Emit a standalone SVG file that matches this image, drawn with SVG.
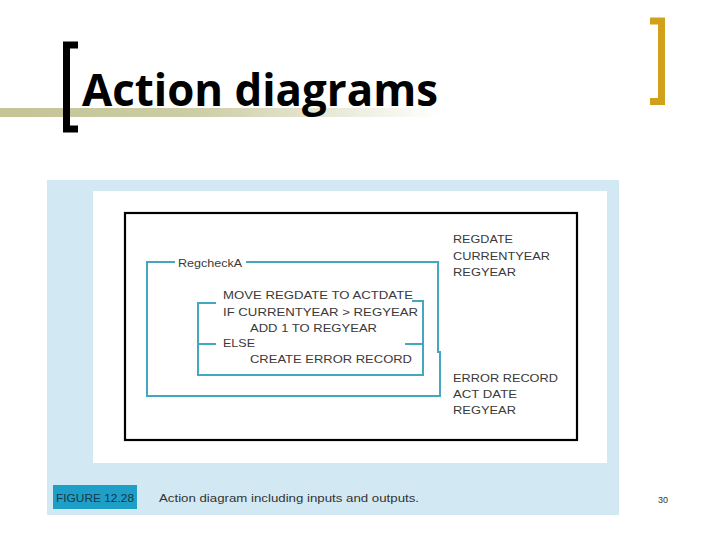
<svg xmlns="http://www.w3.org/2000/svg" width="720" height="540" viewBox="0 0 720 540">
  <defs>
    <linearGradient id="bar" x1="0" y1="0" x2="1" y2="0">
      <stop offset="0" stop-color="#c4c496"/>
      <stop offset="0.45" stop-color="#cdcda6"/>
      <stop offset="1" stop-color="#ffffff"/>
    </linearGradient>
    <style>
      .teal { fill: none; stroke: #45a6bf; stroke-width: 2; }
      .code { font-family: "Liberation Sans", Arial, sans-serif; font-size: 11.5px; fill: #3a3a3a; }
      .title { font-family: "Open Sans", "Liberation Sans", sans-serif; font-weight: bold; font-size: 45px; fill: #000; }
      .cap { font-family: "Liberation Sans", Arial, sans-serif; font-size: 11px; fill: #333; }
    </style>
  </defs>
  <rect width="720" height="540" fill="#ffffff"/>

  <g id="header">
    <rect x="0" y="108" width="440" height="9" fill="url(#bar)"/>
    <path d="M78 45 H66.5 V129 H78" fill="none" stroke="#000" stroke-width="7"/>
    <path d="M650 21 H661.5 V101.5 H650" fill="none" stroke="#d1a11c" stroke-width="7"/>
    <text class="title" x="82" y="106" textLength="356" lengthAdjust="spacingAndGlyphs">Action diagrams</text>
  </g>

  <g id="figure-panel">
    <rect x="47" y="180" width="572" height="335" fill="#d2e9f4"/>
    <rect x="93" y="191" width="514" height="272" fill="#ffffff"/>
    <rect x="125" y="213" width="452" height="227" fill="none" stroke="#000" stroke-width="2.2"/>
  </g>

  <g id="connectors">
    <path class="teal" d="M175 262 H147 V396 H440 V352 H438 V262 H246"/>
    <path class="teal" d="M216 303 H198 V375 H423 V301 H412"/>
    <path class="teal" d="M198 344 H216"/>
    <path class="teal" d="M405 344 H423"/>
  </g>

  <g id="regcheck">
    <text class="code" x="178" y="267" textLength="64" lengthAdjust="spacingAndGlyphs">RegcheckA</text>
  </g>

  <g id="action-body">
    <text class="code" x="223" y="299" textLength="190" lengthAdjust="spacingAndGlyphs">MOVE REGDATE TO ACTDATE</text>
    <text class="code" x="223" y="316" textLength="195" lengthAdjust="spacingAndGlyphs">IF CURRENTYEAR &gt; REGYEAR</text>
    <text class="code" x="250" y="332" textLength="127" lengthAdjust="spacingAndGlyphs">ADD 1 TO REGYEAR</text>
    <text class="code" x="223" y="347" textLength="32" lengthAdjust="spacingAndGlyphs">ELSE</text>
    <text class="code" x="250" y="363" textLength="162" lengthAdjust="spacingAndGlyphs">CREATE ERROR RECORD</text>
  </g>

  <g id="inputs">
    <text class="code" x="453" y="243" textLength="60" lengthAdjust="spacingAndGlyphs">REGDATE</text>
    <text class="code" x="453" y="260" textLength="97" lengthAdjust="spacingAndGlyphs">CURRENTYEAR</text>
    <text class="code" x="453" y="276" textLength="63" lengthAdjust="spacingAndGlyphs">REGYEAR</text>
  </g>

  <g id="outputs">
    <text class="code" x="453" y="382" textLength="105" lengthAdjust="spacingAndGlyphs">ERROR RECORD</text>
    <text class="code" x="453" y="398" textLength="64" lengthAdjust="spacingAndGlyphs">ACT DATE</text>
    <text class="code" x="453" y="414" textLength="63" lengthAdjust="spacingAndGlyphs">REGYEAR</text>
  </g>

  <g id="caption">
    <rect x="53" y="485" width="84" height="24" fill="#1e9fc8"/>
    <text class="cap" x="56" y="502" textLength="78" lengthAdjust="spacingAndGlyphs" style="fill:#163848">FIGURE 12.28</text>
    <text class="cap" x="159" y="502" textLength="260" lengthAdjust="spacingAndGlyphs">Action diagram including inputs and outputs.</text>
  </g>

  <g id="page-number">
    <text class="cap" x="658" y="503" style="font-size:9px">30</text>
  </g>
</svg>
